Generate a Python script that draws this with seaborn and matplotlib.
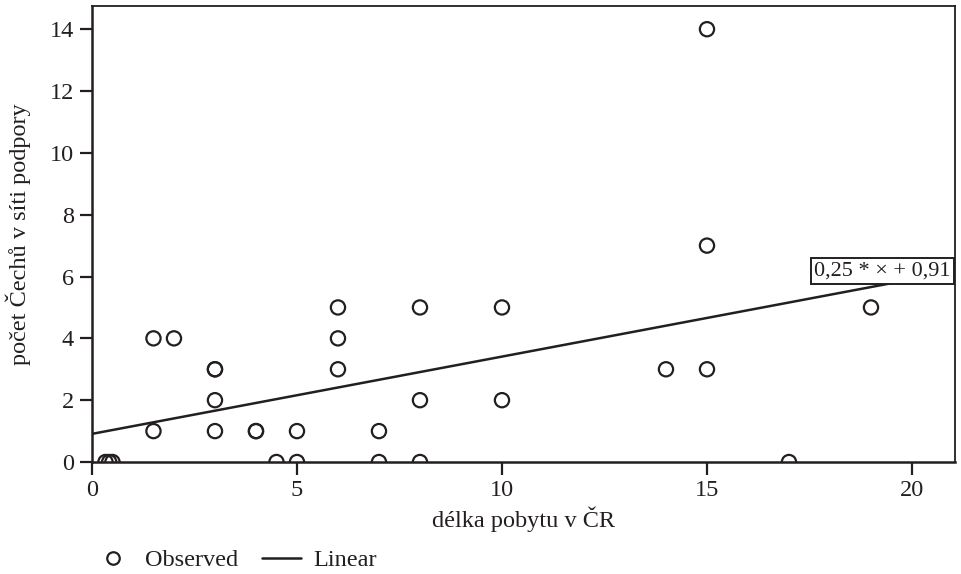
import matplotlib
matplotlib.use("Agg")
import matplotlib.pyplot as plt
from matplotlib.lines import Line2D
import seaborn as sns
import pandas as pd

# data
delka = [0.33, 0.42, 0.5, 1.5, 1.5, 2, 3, 3, 3, 3, 4, 4, 4.5, 5, 5,
         6, 6, 6, 7, 7, 8, 8, 8, 10, 10, 14, 15, 15, 15, 17, 19]
pocet = [0, 0, 0, 4, 1, 4, 3, 3, 2, 1, 1, 1, 0, 1, 0,
         5, 4, 3, 1, 0, 5, 2, 0, 5, 2, 3, 3, 7, 14, 0, 5]
slope, intercept = 0.25, 0.91
fit_label = "0,25 * × + 0,91"
x_ticks = [0, 5, 10, 15, 20]
y_ticks = [0, 2, 4, 6, 8, 10, 12, 14]

df = pd.DataFrame({"delka": delka, "pocet": pocet})

sns.set_style("ticks")
plt.rcParams["font.family"] = ["Liberation Serif", "DejaVu Serif"]
ink = "#231f20"

fig = plt.figure(figsize=(9.61, 5.74), dpi=100)
ax = fig.add_axes([0.0957, 0.1951, 0.8981, 0.7944])

sns.scatterplot(data=df, x="delka", y="pocet", ax=ax, marker="o", s=105,
                facecolor="none", edgecolor=ink, linewidth=1.6, zorder=3)
ax.axline((0, intercept), slope=slope, color=ink, linewidth=1.8, zorder=2)

ax.text(20.95, 6.18, fit_label, ha="right", va="center", fontsize=16, color=ink,
        bbox=dict(boxstyle="square,pad=0.14", facecolor="white", edgecolor=ink, linewidth=1.4),
        zorder=4)

ax.set_xlim(0, 21.05)
ax.set_ylim(0, 14.75)
ax.set_xticks(x_ticks)
ax.set_yticks(y_ticks)
ax.tick_params(axis="both", length=9, width=1.6, color=ink, labelsize=17.5,
               labelcolor=ink, pad=4)
for side in ["left", "bottom"]:
    ax.spines[side].set_linewidth(1.8)
for side in ["top", "right"]:
    ax.spines[side].set_linewidth(1.3)
for sp in ax.spines.values():
    sp.set_color(ink)

ax.set_xlabel("délka pobytu v ČR", fontsize=17.5, color=ink, labelpad=4)
ax.set_ylabel("počet Čechů v síti podpory", fontsize=17.5, color=ink, labelpad=13)

handles = [Line2D([], [], marker="o", linestyle="none", markersize=9, markerfacecolor="none",
                  markeredgecolor=ink, markeredgewidth=1.6, label="Observed"),
           Line2D([], [], color=ink, linewidth=1.8, label="Linear")]
fig.legend(handles=handles, loc="center left", bbox_to_anchor=(0.085, 0.024), ncol=2,
           frameon=False, fontsize=17.5, handlelength=1.6, handletextpad=0.5,
           columnspacing=1.0, borderpad=0, labelcolor=ink)

fig.savefig("out.png", dpi=100)
